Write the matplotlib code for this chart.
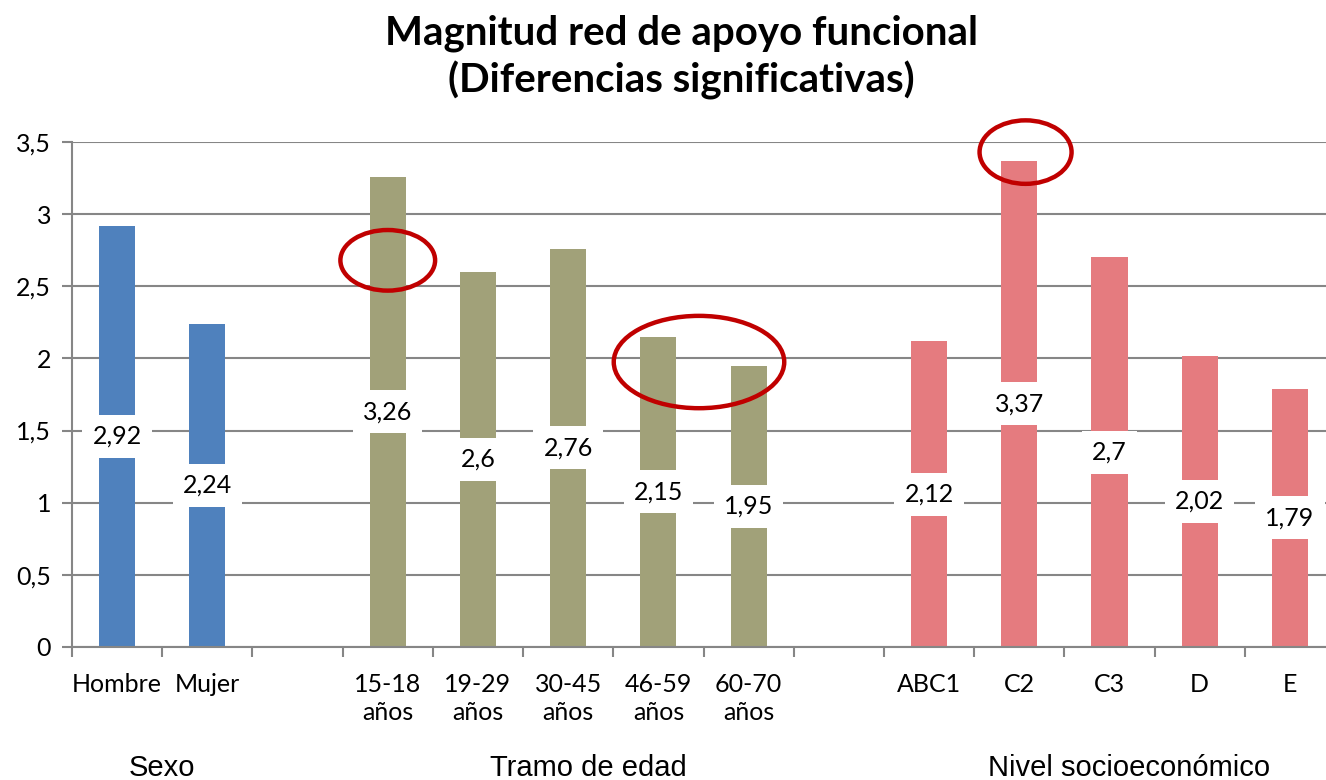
import numpy as np
import matplotlib.pyplot as plt
from matplotlib.patches import Ellipse

# Data
categories = ['Hombre', 'Mujer', '',
              '15-18\naños', '19-29\naños', '30-45\naños', '46-59\naños', '60-70\naños', '',
              'ABC1', 'C2', 'C3', 'D', 'E']
values = [2.92, 2.24, None,
          3.26, 2.6, 2.76, 2.15, 1.95, None,
          2.12, 3.37, 2.7, 2.02, 1.79]
groups = ['Sexo', 'Tramo de edad', 'Nivel socioeconómico']
group_of_slot = [0, 0, None, 1, 1, 1, 1, 1, None, 2, 2, 2, 2, 2]
group_colors = ['#4F81BD', '#A1A179', '#E57B7F']

# highlighted bars (circled in red): (center slot, center y, width, height)
highlights = [(3.0, 2.68, 1.05, 0.42),
              (6.45, 1.975, 1.89, 0.64),
              (10.07, 3.43, 1.02, 0.44)]

fig = plt.figure(figsize=(13.26, 7.8), dpi=100)
ax = fig.add_axes([72 / 1326, 1 - 647 / 780, 1263 / 1326, 505 / 780])

x = np.arange(len(categories))
for i, v in enumerate(values):
    if v is None:
        continue
    ax.bar(x[i], v, width=0.4, color=group_colors[group_of_slot[i]], zorder=2)
    label = f"{v:g}".replace('.', ',')
    ax.text(x[i], v / 2, label, ha='center', va='center', fontsize=18,
            family='Lato', zorder=3,
            bbox=dict(boxstyle='square,pad=0.4', fc='white', ec='none'))

for cx, cy, w, h in highlights:
    ax.add_patch(Ellipse((cx, cy), w, h, fill=False, ec='#C00000', lw=3.2,
                         zorder=4, clip_on=False))

ax.set_xlim(-0.5, len(categories) - 0.5)
ax.set_ylim(0, 3.5)
ax.set_yticks(np.arange(0, 3.51, 0.5))
ax.set_yticklabels([f"{t:g}".replace('.', ',') for t in np.arange(0, 3.51, 0.5)],
                   fontsize=18, family='Lato')
ax.set_xticks(x)
ax.set_xticklabels(categories, fontsize=18, family='Lato', linespacing=1.25)
ax.tick_params(axis='x', length=0, pad=19)
ax.set_xticks(np.arange(-0.5, len(categories)), minor=True)
ax.tick_params(axis='x', which='minor', length=7, color='#868686', width=1.5)
ax.tick_params(axis='y', length=7, color='#868686', width=1.5, pad=8)

ax.grid(axis='y', color='#868686', lw=1.5, zorder=1)
for s in ['top', 'right']:
    ax.spines[s].set_visible(False)
for s in ['left', 'bottom']:
    ax.spines[s].set_color('#868686')
    ax.spines[s].set_linewidth(1.5)

# group labels under the axis
for g, name in enumerate(groups):
    slots = [i for i, gs in enumerate(group_of_slot) if gs == g]
    xc = 0.5 if g == 0 else np.mean(slots) + 0.22
    ax.text(xc, -0.84, name, ha='center', va='center',
            fontsize=21, family='Liberation Sans')

fig.text(0.514, 0.958, 'Magnitud red de apoyo funcional', ha='center', va='center',
         fontsize=29, fontweight='bold', family='Lato')
fig.text(0.514, 0.897, '(Diferencias significativas)', ha='center', va='center',
         fontsize=29, fontweight='bold', family='Lato')

fig.savefig('out.png', dpi=100)
